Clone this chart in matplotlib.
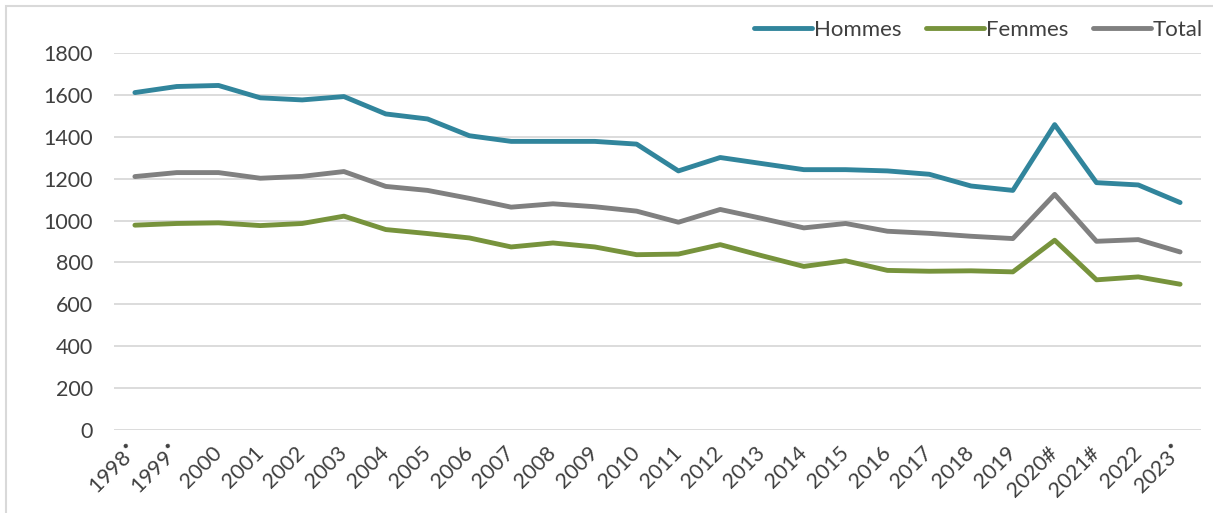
import numpy as np
import matplotlib.pyplot as plt
from matplotlib.patches import Rectangle

plt.rcParams['font.family'] = ['Lato', 'DejaVu Sans']
plt.rcParams['mathtext.fontset'] = 'dejavusans'

years = ["1998$^{\\bullet}$", "1999$^{\\bullet}$", "2000", "2001", "2002", "2003", "2004",
         "2005", "2006", "2007", "2008", "2009", "2010", "2011", "2012", "2013",
         "2014", "2015", "2016", "2017", "2018", "2019", "2020#", "2021#", "2022",
         "2023$^{\\bullet}$"]

hommes = [1611, 1640, 1645, 1586, 1576, 1592, 1509, 1485, 1405, 1378, 1378, 1378,
          1365, 1237, 1301, 1272, 1243, 1243, 1237, 1221, 1165, 1144, 1458, 1181,
          1170, 1086]
femmes = [978, 986, 989, 976, 986, 1021, 957, 938, 917, 874, 893, 874,
          837, 840, 885, 832, 781, 808, 762, 758, 760, 755, 906, 717,
          731, 696]
total = [1210, 1229, 1229, 1202, 1211, 1234, 1163, 1144, 1106, 1064, 1080, 1066,
         1045, 992, 1053, 1010, 965, 986, 949, 939, 925, 914, 1125, 901,
         909, 850]

text_col = "#404040"
W, H = 1213, 513
fig = plt.figure(figsize=(W / 100, H / 100), dpi=100)
ax = fig.add_axes([114 / W, 1 - 430 / H, (1201 - 114) / W, (430 - 53) / H])

x = np.arange(len(years))
style = dict(lw=3.5, solid_capstyle='round', solid_joinstyle='round')
ax.plot(x, hommes, color="#31859C", label="Hommes", **style)
ax.plot(x, femmes, color="#77933C", label="Femmes", **style)
ax.plot(x, total, color="#808080", label="Total", **style)

ax.set_xlim(-0.5, len(years) - 0.5)
ax.set_ylim(0, 1800)
ax.set_yticks(np.arange(0, 1801, 200))
ax.grid(axis='y', color="#D9D9D9", lw=1.3)
ax.set_axisbelow(True)
for s in ax.spines.values():
    s.set_visible(False)
ax.tick_params(length=0, labelsize=15.5, colors=text_col)
ax.tick_params(axis='y', pad=15)
ax.set_xticks(x)
ax.set_xticklabels(years, rotation=45, ha='right', rotation_mode='anchor', va='center')
ax.tick_params(axis='x', pad=14)

leg = ax.legend(loc='lower right', bbox_to_anchor=(1.012, 1.005), ncol=3, frameon=False,
                fontsize=16, handlelength=2.6, handletextpad=0.1, columnspacing=1.1,
                borderaxespad=0.1, labelcolor=text_col)

# outer chart frame (partly cropped)
fig.patches.append(Rectangle((6 / W, -0.1), 1.2, 1 - 6 / H + 0.1, transform=fig.transFigure,
                             fill=False, edgecolor="#D9D9D9", lw=1.5))

fig.savefig("out.png", dpi=100)
